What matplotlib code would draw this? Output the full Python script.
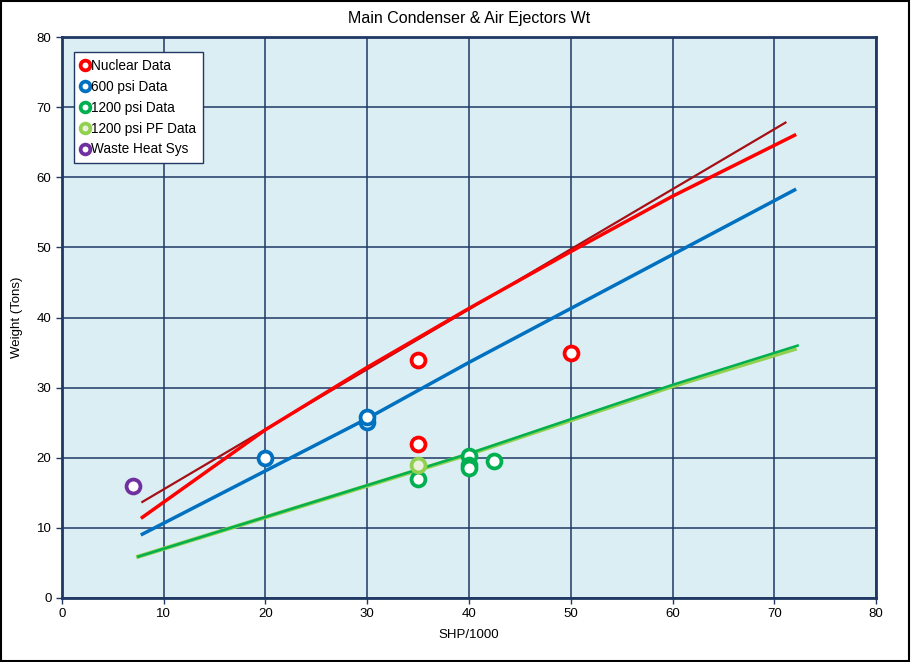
import matplotlib
matplotlib.use("Agg")
import matplotlib.pyplot as plt
from matplotlib.patches import Rectangle

plt.rcParams['font.family'] = ['Liberation Sans', 'DejaVu Sans']

# scatter data
nuc_x = [35, 35, 50]
nuc_y = [34, 22, 35]
psi600_x = [20, 30, 30]
psi600_y = [20, 25.1, 25.8]
psi1200_x = [35, 40, 40, 40, 42.5]
psi1200_y = [17, 20.2, 19.0, 18.5, 19.5]
pf_x = [35]
pf_y = [19]
whs_x = [7]
whs_y = [16]

# trend lines
nuc_fit_x = [7.9, 20, 30, 40, 50, 60, 72]
nuc_fit_y = [11.5, 24.0, 32.9, 41.3, 49.4, 57.3, 66.0]
nuc_old_x = [7.9, 71.1]
nuc_old_y = [13.7, 67.8]
fit600_x = [7.9, 30, 40, 72]
fit600_y = [9.1, 25.6, 33.6, 58.2]
fit1200_x = [7.5, 40, 60, 72.3]
fit1200_y = [5.9, 20.6, 30.4, 36.0]
fitpf_x = [7.5, 40, 60, 72.0]
fitpf_y = [5.9, 20.5, 30.2, 35.5]

navy = '#1F3864'
fig = plt.figure(figsize=(9.11, 6.62), dpi=100)
ax = fig.add_axes([0.068, 0.0967, 0.8936, 0.8473])
ax.set_facecolor('#DAEEF3')

ax.plot(nuc_old_x, nuc_old_y, color='#A50F15', lw=1.6, zorder=3)
ax.plot(fitpf_x, fitpf_y, color='#92D050', lw=3, zorder=3)
ax.plot(fit1200_x, fit1200_y, color='#00B050', lw=1.8, zorder=3)
ax.plot(fit600_x, fit600_y, color='#0070C0', lw=2.5, zorder=3)
ax.plot(nuc_fit_x, nuc_fit_y, color='#FF0000', lw=2.5, zorder=3)

mk = dict(marker='o', ls='none', ms=10, mew=2.7, mfc='white', zorder=4)
ax.plot(nuc_x, nuc_y, mec='#FF0000', label='Nuclear Data', **mk)
ax.plot(psi600_x, psi600_y, mec='#0070C0', label='600 psi Data', **mk)
ax.plot(psi1200_x, psi1200_y, mec='#00B050', label='1200 psi Data', **mk)
ax.plot(pf_x, pf_y, mec='#92D050', label='1200 psi PF Data', **dict(mk, mfc='#EBF1DE'))
ax.plot(whs_x, whs_y, mec='#7030A0', label='Waste Heat Sys', **mk)

ax.set_xlim(0, 80)
ax.set_ylim(0, 80)
ax.set_xticks(range(0, 81, 10))
ax.set_yticks(range(0, 81, 10))
ax.grid(True, color=navy, lw=1.1)
ax.set_axisbelow(True)
for s in ax.spines.values():
    s.set_color(navy)
    s.set_linewidth(2)
ax.tick_params(colors='black', labelsize=9.5, length=4, width=1, direction='out')
ax.tick_params(axis='both', color=navy)
ax.set_xlabel('SHP/1000', fontsize=9.5, labelpad=6)
ax.set_ylabel('Weight (Tons)', fontsize=9.5, labelpad=10)
ax.set_title('Main Condenser & Air Ejectors Wt', fontsize=11.5, pad=10)

leg = ax.legend(loc='upper left', bbox_to_anchor=(0.006, 0.985), fontsize=9.8,
                fancybox=False, framealpha=1, edgecolor=navy, handlelength=0.6,
                handletextpad=0.2, markerscale=0.7, borderpad=0.5, labelspacing=0.5)
leg.get_frame().set_linewidth(1)

fig.patches.append(Rectangle((0.001, 0.001), 0.997, 0.997, transform=fig.transFigure,
                             fill=False, edgecolor='black', lw=1.5))

fig.savefig('out.png', dpi=100)
